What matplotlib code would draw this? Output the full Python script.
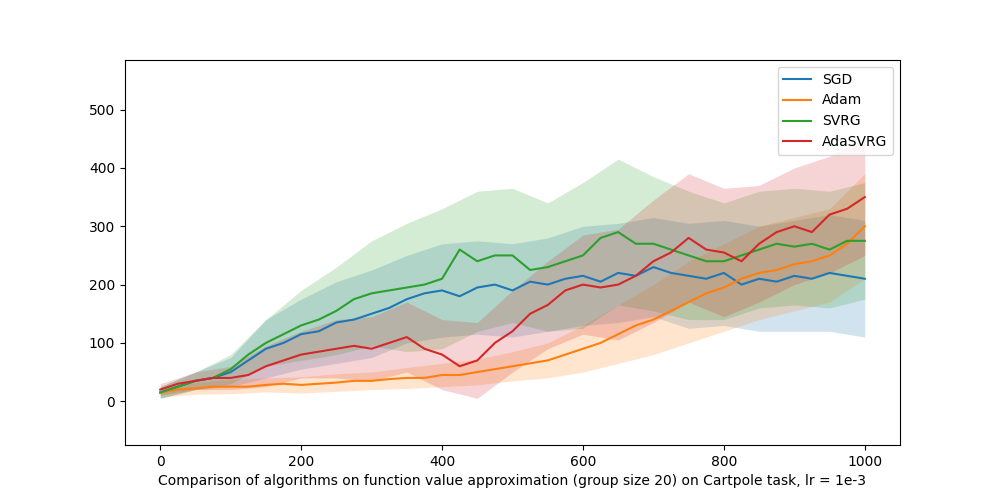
import numpy as np
import matplotlib.pyplot as plt

# values, every 25 episodes
steps = list(range(0, 1001, 25))
sgd = [15, 25, 35, 40, 50, 70, 90, 100, 115, 120, 135, 140, 150, 160, 175, 185, 190, 180, 195, 200, 190,
       205, 200, 210, 215, 205, 220, 215, 230, 220, 215, 210, 220, 200, 210, 205, 215, 210, 220, 215, 210]
adam = [15, 20, 22, 25, 25, 25, 28, 30, 28, 30, 32, 35, 35, 38, 40, 40, 45, 45, 50, 55, 60,
        65, 70, 80, 90, 100, 115, 130, 140, 155, 170, 185, 195, 210, 220, 225, 235, 240, 250, 270, 300]
svrg = [15, 25, 35, 40, 55, 80, 100, 115, 130, 140, 155, 175, 185, 190, 195, 200, 210, 260, 240, 250, 250,
        225, 230, 240, 250, 280, 290, 270, 270, 260, 250, 240, 240, 250, 260, 270, 265, 270, 260, 275, 275]
adasvrg = [20, 30, 35, 40, 40, 45, 60, 70, 80, 85, 90, 95, 90, 100, 110, 90, 80, 60, 70, 100, 120,
           150, 165, 190, 200, 195, 200, 215, 240, 255, 280, 260, 255, 240, 270, 290, 300, 290, 320, 330, 350]

# half-width of shaded band, every 50 episodes
band_steps = list(range(0, 1001, 50))
sgd_spread = [10, 15, 25, 50, 60, 70, 75, 75, 80, 80, 80, 80, 85, 85, 85, 90, 90, 90, 95, 100, 100]
adam_spread = [8, 10, 12, 12, 14, 15, 15, 18, 20, 22, 25, 30, 40, 50, 60, 70, 75, 80, 80, 80, 90]
svrg_spread = [10, 15, 25, 40, 60, 75, 90, 110, 120, 120, 115, 110, 125, 125, 115, 110, 100, 100, 100, 100, 100]
adasvrg_spread = [10, 15, 20, 35, 40, 50, 55, 60, 60, 65, 70, 75, 85, 95, 105, 110, 110, 100, 100, 100, 100]

series = [("SGD", sgd, sgd_spread, "#1f77b4"),
          ("Adam", adam, adam_spread, "#ff7f0e"),
          ("SVRG", svrg, svrg_spread, "#2ca02c"),
          ("AdaSVRG", adasvrg, adasvrg_spread, "#d62728")]

fig, ax = plt.subplots(figsize=(10, 5), dpi=100)
for name, vals, spread, col in series:
    mid = np.interp(band_steps, steps, vals)
    ax.fill_between(band_steps, mid - np.array(spread), mid + np.array(spread), color=col, alpha=0.2, linewidth=0)
for name, vals, spread, col in series:
    ax.plot(steps, vals, color=col, linewidth=1.5, label=name)

ax.set_ylim(-75, 585)
ax.set_xlim(-50, 1050)
ax.set_xlabel("Comparison of algorithms on function value approximation (group size 20) on Cartpole task, lr = 1e-3")
ax.legend(loc="upper right")
plt.savefig("out.png")
